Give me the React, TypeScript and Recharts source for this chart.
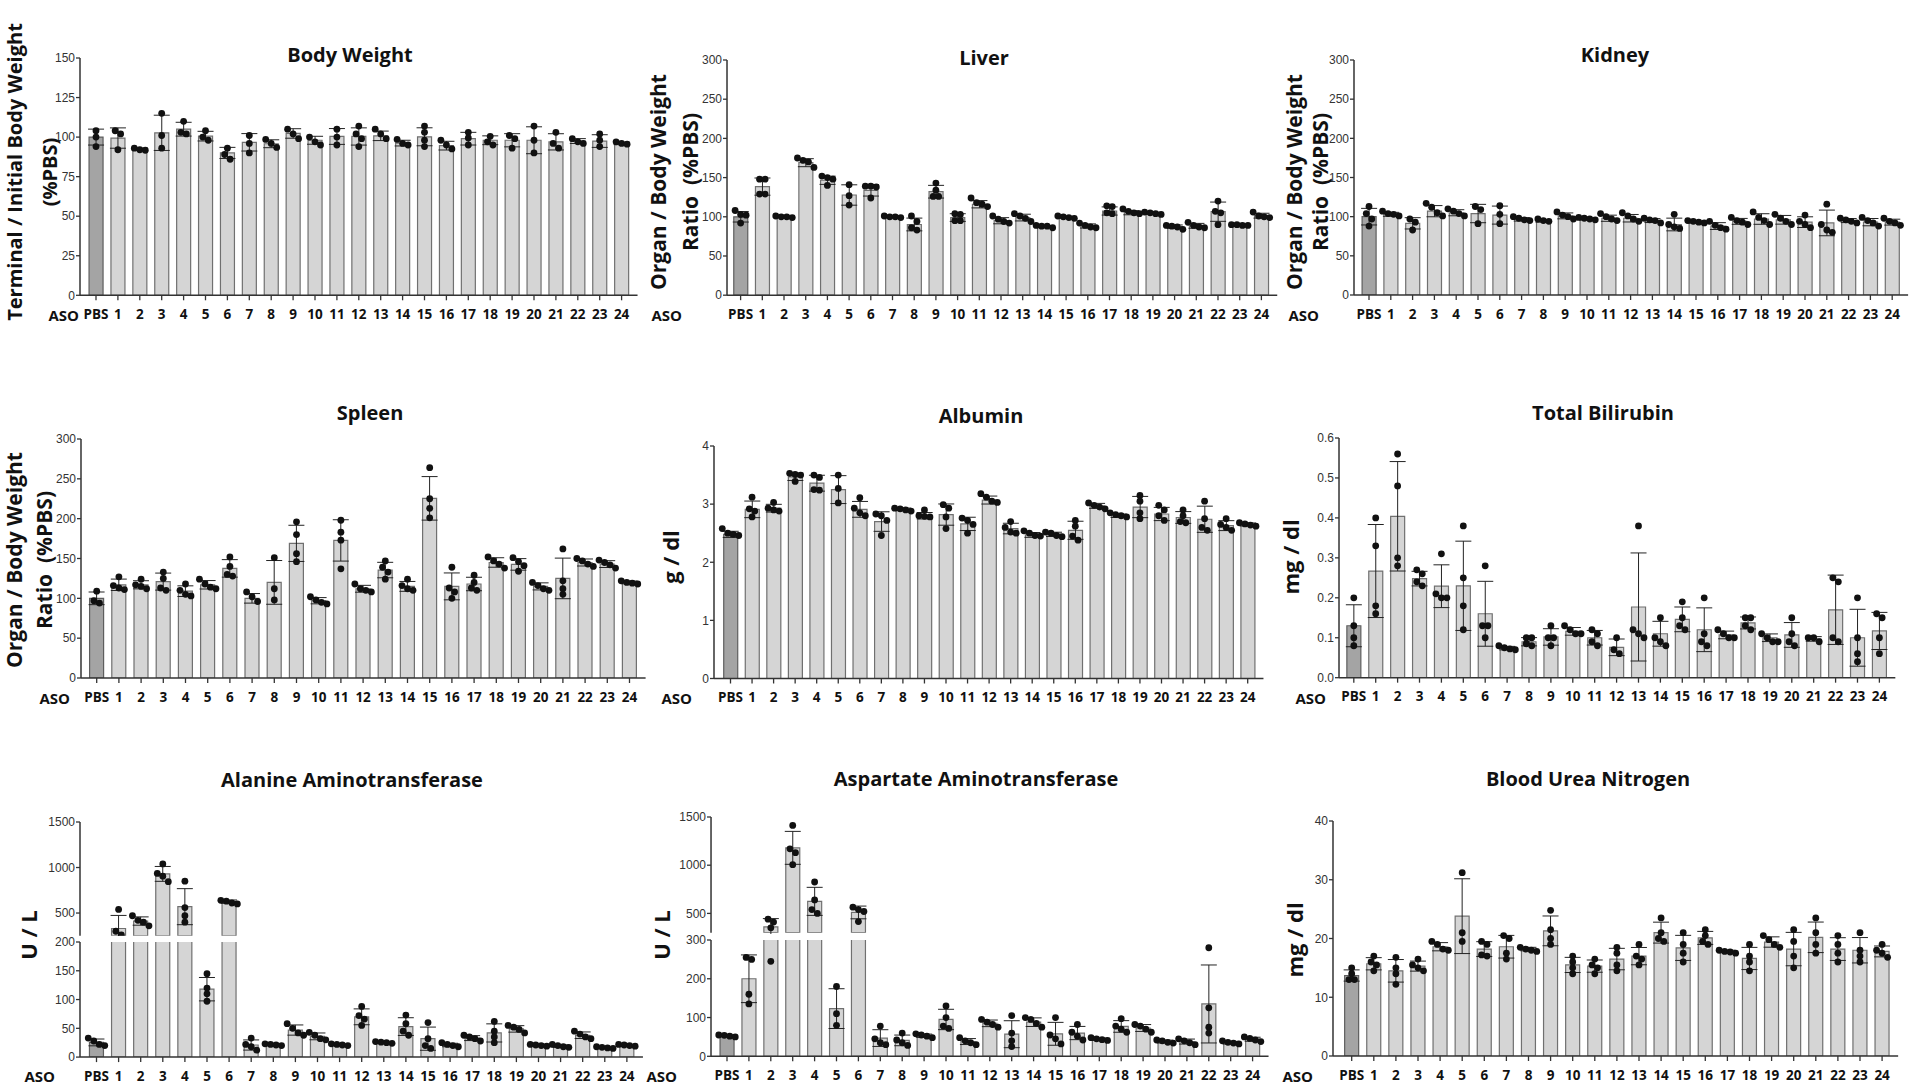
import React from 'react'
import { ComposedChart, Bar, Cell, ErrorBar, Scatter, XAxis, YAxis } from 'recharts'

const groups = ['PBS', '1', '2', '3', '4', '5', '6', '7', '8', '9', '10', '11', '12', '13', '14', '15', '16', '17', '18', '19', '20', '21', '22', '23', '24']

// Body weight (% PBS)
const bwMean = [100, 99.4, 92.3, 102.7, 105, 100.6, 90, 96.7, 95.8, 102.3, 98, 100.4, 100.4, 100.8, 96.2, 100.2, 94.6, 99, 98, 98, 98, 97, 97.5, 97.5, 96]
const bwDots = [
  [104, 100, 94], [104, 92, 102], [93, 92, 91.7], [115, 101, 93], [110, 103, 102], [104, 100, 98], [93, 89, 86],
  [101, 96, 90], [98.5, 96, 93.5], [105, 102, 99], [100, 97, 95], [105, 100, 95], [107, 102, 99, 94], [105, 102, 99],
  [98.5, 96, 95], [107, 103, 98, 94], [98, 95, 92.5], [103, 99.5, 95], [100.5, 97, 95], [101, 99, 93], [107, 98, 90],
  [103, 96, 93], [99, 97, 96], [102, 98, 94], [97, 96, 95.5],
]

// Liver / body weight (% PBS)
const liverMean = [100, 138.5, 100, 169, 146.6, 127.8, 133.8, 100, 90.2, 132, 99, 116, 95, 99, 87.4, 99.4, 88.3, 107.4, 105.2, 104.4, 87.4, 88.5, 106.5, 89.5, 101.4]
const liverDots = [
  [108, 103, 102, 92], [148, 148, 129, 129], [101, 100, 100, 99], [175, 172, 170, 163], [152, 150, 148, 140],
  [141, 127, 115], [139, 139, 138, 124], [101, 100, 100, 99], [101, 94, 86, 83], [143, 134, 126, 126],
  [104, 103, 95, 95], [124, 118, 116, 113], [101, 97, 94, 92], [104, 101, 98, 94], [89, 88, 88, 86],
  [101, 100, 99, 98], [92, 89, 87, 86], [114, 113, 105, 104], [110, 107, 105, 104], [106, 105, 104, 103],
  [89, 88, 87, 84], [93, 89, 87, 86], [120, 107, 105, 90], [90, 90, 89, 89], [106, 101, 100, 99],
]

// Kidney / body weight (% PBS)
const kidneyMean = [100, 103, 91.5, 107, 105, 104, 102, 96.6, 94.5, 101, 97, 98, 98, 95, 90, 93, 88, 94, 97, 96, 93, 92, 95, 93, 93]
const kidneyDots = [
  [113, 104, 97, 88], [107, 104, 103, 101], [97, 93, 83], [117, 112, 105, 101], [110, 107, 104, 101],
  [113, 109, 91], [114, 103, 91], [100, 98, 96, 95], [97, 95, 94], [106, 102, 100, 97],
  [99, 98, 97, 96], [104, 100, 97, 95], [105, 101, 97, 94], [98, 96, 95, 92], [103, 90, 87, 85],
  [95, 94, 93, 92], [94, 89, 86, 84], [99, 95, 93, 90], [106, 99, 95, 90], [103, 98, 94, 90],
  [102, 94, 90, 86], [116, 90, 83, 80], [98, 96, 94, 92], [99, 95, 92, 88], [98, 94, 92, 89],
]

// Spleen / body weight (% PBS)
const spleenMean = [100, 117, 117, 121, 109, 117, 137.6, 100, 120, 169, 97, 172.7, 112, 135.5, 115, 225.5, 115, 118, 145, 142.6, 115, 125, 145, 143, 120]
const spleenDots = [
  [109, 97, 94], [127, 116, 113, 111], [124, 117, 115, 112], [133, 125, 113, 110], [118, 110, 105, 103],
  [124, 118, 114, 112], [152, 140, 130, 128], [108, 102, 96], [151, 112, 98], [196, 180, 156, 146],
  [102, 98, 95, 93], [198, 183, 173, 137], [118, 112, 110, 108], [147, 139, 133, 124], [124, 116, 112, 110],
  [264, 225, 213, 201], [139, 113, 108, 100], [129, 120, 113, 110], [152, 147, 143, 138], [151, 146, 141, 134],
  [120, 116, 112, 110], [162, 122, 112, 105], [150, 147, 143, 140], [148, 145, 142, 138], [122, 120, 119, 118],
]

// Albumin (g/dl)
const albMean = [2.48, 2.91, 2.93, 3.47, 3.36, 3.25, 2.91, 2.7, 2.91, 2.8, 2.82, 2.66, 3.07, 2.58, 2.47, 2.48, 2.55, 2.97, 2.8, 2.95, 2.83, 2.77, 2.74, 2.63, 2.65]
const albDots = [
  [2.58, 2.5, 2.48, 2.46], [3.12, 2.92, 2.88, 2.78], [3.03, 2.93, 2.9, 2.88], [3.53, 3.51, 3.5, 3.39], [3.5, 3.46, 3.25, 3.24],
  [3.5, 3.27, 3.02], [3.11, 2.93, 2.85, 2.8], [2.83, 2.8, 2.72, 2.46], [2.93, 2.92, 2.9, 2.88], [2.9, 2.8, 2.79, 2.78],
  [2.99, 2.93, 2.78, 2.58], [2.76, 2.72, 2.65, 2.5], [3.18, 3.12, 3.05, 3.03], [2.7, 2.6, 2.52, 2.5], [2.54, 2.5, 2.46, 2.45],
  [2.52, 2.5, 2.46, 2.44], [2.72, 2.62, 2.45, 2.38], [3.02, 2.98, 2.95, 2.92], [2.85, 2.82, 2.8, 2.78], [3.15, 3.05, 2.85, 2.75],
  [2.98, 2.9, 2.8, 2.72], [2.9, 2.8, 2.7, 2.68], [3.05, 2.75, 2.6, 2.55], [2.75, 2.65, 2.6, 2.55], [2.68, 2.66, 2.64, 2.62],
]

// Total bilirubin (mg/dl)
const biliMean = [0.13, 0.267, 0.404, 0.248, 0.229, 0.23, 0.16, 0.074, 0.09, 0.102, 0.116, 0.1, 0.076, 0.177, 0.11, 0.146, 0.12, 0.107, 0.137, 0.1, 0.107, 0.097, 0.17, 0.1, 0.117]
const biliDots = [
  [0.2, 0.13, 0.1, 0.08], [0.4, 0.33, 0.18, 0.16], [0.56, 0.48, 0.3, 0.28], [0.27, 0.26, 0.24, 0.23], [0.31, 0.21, 0.2, 0.2],
  [0.38, 0.25, 0.18, 0.12], [0.28, 0.13, 0.13, 0.1], [0.08, 0.075, 0.072, 0.07], [0.1, 0.1, 0.085, 0.08], [0.13, 0.1, 0.1, 0.08],
  [0.13, 0.12, 0.11, 0.11], [0.12, 0.11, 0.09, 0.08], [0.1, 0.07, 0.06], [0.38, 0.12, 0.11, 0.1], [0.15, 0.1, 0.09, 0.08],
  [0.19, 0.15, 0.13, 0.12], [0.2, 0.11, 0.09, 0.08], [0.12, 0.11, 0.1, 0.1], [0.15, 0.15, 0.13, 0.12], [0.11, 0.1, 0.09, 0.09],
  [0.15, 0.11, 0.09, 0.08], [0.1, 0.1, 0.09], [0.25, 0.24, 0.1, 0.09], [0.2, 0.1, 0.06, 0.04], [0.16, 0.15, 0.1, 0.06],
]

// ALT (U/L)
const altMean = [25.5, 330, 412, 930, 570, 118, 625, 21, 21, 47, 36, 21, 70, 25, 53, 32, 21, 33, 42, 49, 21, 19, 38, 16, 20]
const altDots = [
  [33, 28, 22, 20], [540, 300, 260, 220], [470, 420, 400, 360], [1040, 935, 905, 845], [850, 560, 470, 400],
  [145, 120, 110, 97], [640, 630, 610, 600], [33, 22, 18, 12], [23, 22, 21, 20], [58, 50, 42, 38],
  [43, 38, 32, 30], [23, 22, 21, 20], [88, 72, 66, 55], [27, 26, 25, 24], [73, 58, 45, 38],
  [60, 32, 20, 15], [25, 22, 20, 18], [38, 35, 32, 28], [62, 45, 35, 25], [55, 52, 48, 42],
  [22, 21, 20, 19], [22, 20, 18, 17], [45, 40, 35, 32], [18, 17, 16, 15], [22, 21, 20, 19],
]

// AST (U/L)
const astMean = [53, 200, 360, 1180, 625, 123, 510, 47, 41, 53, 95, 38, 85, 57, 88, 58, 60, 44, 77, 73, 38, 38, 135, 35, 44]
const astDots = [
  [55, 54, 52, 50], [255, 250, 160, 135], [440, 410, 350, 245], [1413, 1170, 1130, 1005], [826, 640, 540, 500],
  [180, 110, 80], [565, 540, 520, 415], [78, 45, 35, 30], [60, 42, 35, 28], [58, 55, 52, 48],
  [130, 100, 78, 72], [48, 40, 35, 30], [95, 88, 82, 75], [105, 60, 40, 25], [100, 95, 85, 75],
  [100, 55, 45, 32], [82, 62, 52, 42], [48, 45, 43, 41], [97, 78, 70, 62], [82, 78, 70, 62],
  [42, 40, 36, 34], [45, 40, 35, 30], [280, 125, 75, 60], [40, 36, 34, 32], [50, 46, 42, 38],
]

// BUN (mg/dl)
const bunMean = [13.7, 15.7, 14.5, 15.3, 18.6, 23.8, 18.2, 18.6, 18.2, 21.3, 15.5, 15.3, 16.5, 17, 21, 18.4, 20.1, 17.8, 16.6, 19.4, 18.2, 20.2, 18.2, 18, 17.8]
const bunDots = [
  [15, 14, 13, 13], [17, 16, 15.5, 14.5], [16.8, 15, 14, 12.2], [16.5, 15.5, 15, 14.5], [19.5, 19, 18.2, 18],
  [31.2, 21, 19.5], [19.5, 19, 17.2, 17], [20.5, 20, 17.5, 16.5], [18.5, 18.2, 18, 17.8], [24.8, 21.5, 20, 19],
  [17, 16, 15, 14], [16.5, 15.5, 15, 14], [18.5, 17.5, 15.5, 14.5], [19, 17, 16.5, 15.5], [23.5, 21, 20, 19.5],
  [21, 19, 17.5, 16], [21.5, 20.5, 19.5, 19], [18, 17.8, 17.7, 17.5], [19, 17, 16, 14.5], [20.5, 19.8, 19, 18.5],
  [21.5, 19.5, 17, 15], [23.5, 21, 19, 17.5], [20.5, 19, 17.5, 16], [21, 18, 17, 16], [19, 18, 17.5, 16.8],
]

type Seg = { domain: [number, number]; ticks: number[]; top: number; bottom: number }
type PanelDef = {
  means: number[]
  dots: number[][]
  axisX: number
  firstCenter: number
  step: number
  segs: Seg[]
  fmt?: (v: number) => string
}

const panels: PanelDef[] = [
  { means: bwMean, dots: bwDots, axisX: 80, firstCenter: 96, step: 21.9, segs: [{ domain: [0, 150], ticks: [0, 25, 50, 75, 100, 125, 150], top: 57.7, bottom: 295 }] },
  { means: liverMean, dots: liverDots, axisX: 726.7, firstCenter: 740.3, step: 21.7, segs: [{ domain: [0, 300], ticks: [0, 50, 100, 150, 200, 250, 300], top: 60, bottom: 295.2 }] },
  { means: kidneyMean, dots: kidneyDots, axisX: 1354, firstCenter: 1369, step: 21.8, segs: [{ domain: [0, 300], ticks: [0, 50, 100, 150, 200, 250, 300], top: 60, bottom: 295 }] },
  { means: spleenMean, dots: spleenDots, axisX: 81, firstCenter: 96.7, step: 22.2, segs: [{ domain: [0, 300], ticks: [0, 50, 100, 150, 200, 250, 300], top: 439, bottom: 678 }] },
  { means: albMean, dots: albDots, axisX: 714, firstCenter: 730.5, step: 21.55, segs: [{ domain: [0, 4], ticks: [0, 1, 2, 3, 4], top: 446, bottom: 678.5 }] },
  { means: biliMean, dots: biliDots, axisX: 1338.5, firstCenter: 1353.3, step: 21.9, fmt: (v) => v.toFixed(1), segs: [{ domain: [0, 0.6], ticks: [0, 0.1, 0.2, 0.3, 0.4, 0.5, 0.6], top: 438.3, bottom: 678 }] },
  {
    means: altMean, dots: altDots, axisX: 80, firstCenter: 96.5, step: 22.1,
    segs: [
      { domain: [250, 1500], ticks: [500, 1000, 1500], top: 821.7, bottom: 935.5 },
      { domain: [0, 200], ticks: [0, 50, 100, 150, 200], top: 941.6, bottom: 1056.7 },
    ],
  },
  {
    means: astMean, dots: astDots, axisX: 711, firstCenter: 727, step: 21.9,
    segs: [
      { domain: [300, 1500], ticks: [500, 1000, 1500], top: 817.3, bottom: 933 },
      { domain: [0, 300], ticks: [0, 100, 200, 300], top: 940.4, bottom: 1056.7 },
    ],
  },
  { means: bunMean, dots: bunDots, axisX: 1333.3, firstCenter: 1352, step: 22.1, segs: [{ domain: [0, 40], ticks: [0, 10, 20, 30, 40], top: 821, bottom: 1056 }] },
]

const titles = [
  { t: 'Body Weight', x: 350, y: 62 },
  { t: 'Liver', x: 984, y: 65 },
  { t: 'Kidney', x: 1615, y: 62 },
  { t: 'Spleen', x: 370, y: 420 },
  { t: 'Albumin', x: 981, y: 423 },
  { t: 'Total Bilirubin', x: 1603, y: 420 },
  { t: 'Alanine Aminotransferase', x: 352, y: 787 },
  { t: 'Aspartate Aminotransferase', x: 976, y: 786 },
  { t: 'Blood Urea Nitrogen', x: 1588, y: 786 },
]

const yLabels = [
  { lines: ['Terminal / Initial Body Weight', '(%PBS)'], bx: [22, 57], cy: 172, size: 20 },
  { lines: ['Organ / Body Weight', 'Ratio  (%PBS)'], bx: [666, 698], cy: 182, size: 21 },
  { lines: ['Organ / Body Weight', 'Ratio  (%PBS)'], bx: [1302, 1328], cy: 182, size: 21 },
  { lines: ['Organ / Body Weight', 'Ratio  (%PBS)'], bx: [22, 52], cy: 560, size: 21 },
  { lines: ['g / dl'], bx: [679], cy: 557, size: 22 },
  { lines: ['mg / dl'], bx: [1299], cy: 557, size: 22 },
  { lines: ['U / L'], bx: [37], cy: 935, size: 22 },
  { lines: ['U / L'], bx: [670], cy: 935, size: 22 },
  { lines: ['mg / dl'], bx: [1303], cy: 940, size: 22 },
]

const asoLabels = [
  { x: 79, y: 321 }, { x: 682, y: 321 }, { x: 1319, y: 321 },
  { x: 70, y: 704 }, { x: 692, y: 704 }, { x: 1326, y: 704 },
  { x: 55, y: 1082 }, { x: 677, y: 1082 }, { x: 1313, y: 1082 },
]

const AXIS = '#333'
const Y_W = 60
const MT = 8
const XH = 40

function sampleSd(v: number[]) {
  const m = v.reduce((a, b) => a + b, 0) / v.length
  return Math.sqrt(v.reduce((a, b) => a + (b - m) ** 2, 0) / (v.length - 1))
}

function screenY(segs: Seg[], v: number) {
  for (const s of segs) {
    if (v >= s.domain[0] && v <= s.domain[1]) {
      return s.bottom - ((v - s.domain[0]) / (s.domain[1] - s.domain[0])) * (s.bottom - s.top)
    }
  }
  return 5000 + v
}

// rows with mean, sd, dots and a small horizontal spread for dots that overlap
function buildRows(p: PanelDef) {
  return groups.map((name, i) => {
    const vals = p.dots[i]
    const row: any = { name, mean: p.means[i], sd: sampleSd(vals) }
    vals.forEach((v, j) => (row[`d${j + 1}`] = v))
    const pts = vals.map((v, j) => ({ j, y: screenY(p.segs, v) })).sort((a, b) => a.y - b.y)
    let cluster: { j: number; y: number }[] = []
    const flush = () => {
      cluster.forEach((c, k) => (row[`o${c.j + 1}`] = (k - (cluster.length - 1) / 2) * 5.5))
      cluster = []
    }
    pts.forEach((pt) => {
      if (cluster.length && pt.y - cluster[cluster.length - 1].y > 5.5) flush()
      cluster.push(pt)
    })
    flush()
    return row
  })
}

const dotShape = (k: number) => (props: any) => {
  const v = props.payload ? props.payload[`d${k}`] : undefined
  if (v == null || !Number.isFinite(props.cy) || !Number.isFinite(props.cx)) return <g />
  const off = props.payload[`o${k}`] || 0
  return <circle cx={props.cx + off} cy={props.cy} r={3.4} fill="#111" />
}

// on a broken axis each segment only keeps what falls inside it
function segmentRows(rows: any[], seg: Seg) {
  const [lo, hi] = seg.domain
  const inside = (v: any) => v != null && v >= lo && v <= hi
  return rows.map((r) => {
    const out: any = { ...r, mean: r.mean < lo ? undefined : r.mean, sd: inside(r.mean) ? r.sd : undefined }
    for (let k = 1; k <= 4; k++) if (!inside(r[`d${k}`])) out[`d${k}`] = undefined
    return out
  })
}

function Panel({ def }: { def: PanelDef }) {
  const rows = buildRows(def)
  const padL = def.firstCenter - def.step / 2 - def.axisX
  const plotW = padL + groups.length * def.step + 5
  const multi = def.segs.length > 1
  return (
    <>
      {def.segs.map((seg, si) => {
        const isLast = si === def.segs.length - 1
        const plotH = seg.bottom - seg.top
        const height = MT + plotH + (isLast ? XH : 1)
        const width = Y_W + plotW + 6
        const data = multi ? segmentRows(rows, seg) : rows
        return (
          <div
            key={si}
            style={{ position: 'absolute', left: def.axisX - Y_W, top: seg.top - MT, width, height, overflow: 'hidden' }}
          >
            <ComposedChart width={width} height={height} data={data} margin={{ top: MT, right: 6, bottom: isLast ? 0 : 1, left: 0 }}>
              <XAxis
                dataKey="name"
                hide={!isLast}
                interval={0}
                padding={{ left: padL, right: 5 }}
                height={XH}
                tickSize={5}
                tickMargin={9}
                axisLine={{ stroke: AXIS, strokeWidth: 1.5 }}
                tickLine={{ stroke: AXIS, strokeWidth: 1.3 }}
                tick={{ fontSize: 13.5, fontWeight: 700, fill: '#111', fontFamily: 'Open Sans' }}
              />
              <YAxis
                type="number"
                domain={seg.domain}
                ticks={seg.ticks}
                allowDataOverflow
                width={Y_W}
                tickSize={4}
                tickMargin={1}
                tickFormatter={def.fmt}
                axisLine={{ stroke: AXIS, strokeWidth: 1.5 }}
                tickLine={{ stroke: AXIS, strokeWidth: 1.3 }}
                tick={{ fontSize: 12, fill: '#333', fontFamily: 'Liberation Sans' }}
              />
              <Bar dataKey="mean" barSize={14} stroke="#6a6a6a" strokeWidth={1.2} isAnimationActive={false}>
                {data.map((_, i) => (
                  <Cell key={i} fill={i === 0 ? '#a4a4a4' : '#d5d5d5'} stroke={i === 0 ? '#5e5e5e' : '#707070'} />
                ))}
                <ErrorBar dataKey="sd" width={8} stroke="#222" strokeWidth={1} direction="y" />
              </Bar>
              {[1, 2, 3, 4].map((k) => (
                <Scatter key={k} dataKey={`d${k}`} isAnimationActive={false} shape={dotShape(k)} />
              ))}
            </ComposedChart>
          </div>
        )
      })}
    </>
  )
}

export default function App() {
  return (
    <div style={{ position: 'absolute', left: 0, top: 0, width: 1920, height: 1085, background: '#fff', overflow: 'hidden' }}>
      {panels.map((p, i) => (
        <Panel key={i} def={p} />
      ))}
      <svg width={1920} height={1085} style={{ position: 'absolute', left: 0, top: 0, pointerEvents: 'none' }}>
        {titles.map((t) => (
          <text key={t.t} x={t.x} y={t.y} textAnchor="middle" fontFamily="Open Sans" fontWeight={700} fontSize={20} fill="#111">
            {t.t}
          </text>
        ))}
        {yLabels.map((l, i) =>
          l.lines.map((line, j) => (
            <text
              key={`${i}-${j}`}
              transform={`translate(${l.bx[j]},${l.cy}) rotate(-90)`}
              textAnchor="middle"
              fontFamily="Open Sans"
              fontWeight={700}
              fontSize={l.size}
              fill="#111"
              style={{ whiteSpace: 'pre' }}
            >
              {line}
            </text>
          ))
        )}
        {asoLabels.map((a, i) => (
          <text key={i} x={a.x} y={a.y} textAnchor="end" fontFamily="Open Sans" fontWeight={700} fontSize={15} fill="#111">
            ASO
          </text>
        ))}
      </svg>
    </div>
  )
}
